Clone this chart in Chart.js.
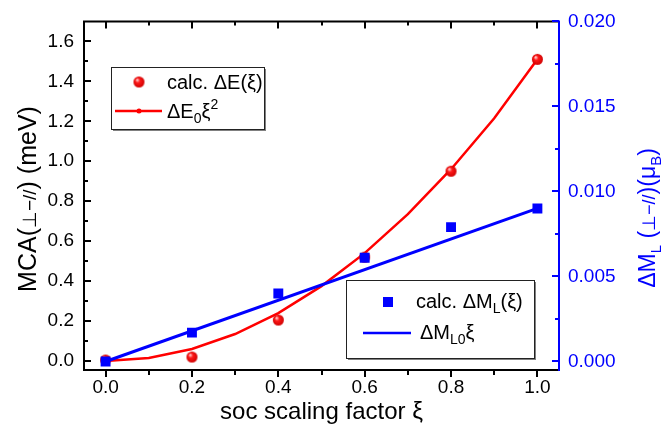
<!DOCTYPE html>
<html>
<head>
<meta charset="utf-8">
<script src="https://cdn.jsdelivr.net/npm/chart.js@4/dist/chart.umd.min.js"></script>
<style>
  body { margin: 0; background: #fff; }
  #mca { display: block; }
</style>
</head>
<body>
<canvas id="mca" width="666" height="431"></canvas>
<script>
// soc scaling factor values of the calculations
const xiCalc = [0.0, 0.2, 0.4, 0.6, 0.8, 1.0];
// calculated MCA energy, meV
const dECalc = [0.005, 0.02, 0.205, 0.52, 0.95, 1.51];
// calculated orbital moment anisotropy, mu_B
const dMCalc = [0.0, 0.0017, 0.0040, 0.0061, 0.0079, 0.0090];

// quadratic model curve
const xiFit = [0.0, 0.1, 0.2, 0.3, 0.4, 0.5, 0.6, 0.7, 0.8, 0.9, 1.0];
const dEFit = [0.0, 0.015, 0.06, 0.135, 0.24, 0.375, 0.54, 0.735, 0.96, 1.215, 1.51];
// linear model line
const xiLin = [0.0, 1.0];
const dMLin = [0.0, 0.0090];

// tick positions
const xMajor = [0.0, 0.2, 0.4, 0.6, 0.8, 1.0];
const xMinor = [0.1, 0.3, 0.5, 0.7, 0.9];
const yMajor = [0.0, 0.2, 0.4, 0.6, 0.8, 1.0, 1.2, 1.4, 1.6];
const yMinor = [0.1, 0.3, 0.5, 0.7, 0.9, 1.1, 1.3, 1.5];
const y2Major = [0.0, 0.005, 0.010, 0.015, 0.020];
const y2Minor = [0.0025, 0.0075, 0.0125, 0.0175];

const FONT = "'Liberation Sans', Arial, sans-serif";
const RED = '#ff0000';
const BLUE = '#0000ff';

const pts = (xs, ys) => xs.map((v, i) => ({ x: v, y: ys[i] }));

// shaded red ball used as point marker
function makeBall(r) {
  const c = document.createElement('canvas');
  const s = Math.ceil(r * 2 + 2);
  c.width = c.height = s;
  const g = c.getContext('2d');
  const cx = s / 2, cy = s / 2;
  const grad = g.createRadialGradient(cx - r * 0.35, cy - r * 0.4, r * 0.1, cx, cy, r);
  grad.addColorStop(0, '#ffc8c8');
  grad.addColorStop(0.35, '#ff1a1a');
  grad.addColorStop(1, '#d00000');
  g.fillStyle = grad;
  g.beginPath();
  g.arc(cx, cy, r, 0, Math.PI * 2);
  g.fill();
  return c;
}
const ball = makeBall(5.5);

// draws a run of text pieces with their own size / vertical shift
function richText(ctx, parts, x, y, color, measureOnly) {
  let w = 0;
  parts.forEach(p => {
    ctx.font = p.size + 'px ' + FONT;
    if (!measureOnly) {
      ctx.fillStyle = color;
      ctx.fillText(p.t, x + w, y + (p.dy || 0));
    }
    w += ctx.measureText(p.t).width;
  });
  return w;
}

function richCentered(ctx, parts, cx, cy, color, rotate) {
  ctx.save();
  ctx.textBaseline = 'alphabetic';
  ctx.textAlign = 'left';
  ctx.translate(cx, cy);
  if (rotate) ctx.rotate(-Math.PI / 2);
  const w = richText(ctx, parts, 0, 0, color, true);
  richText(ctx, parts, -w / 2, 8, color, false);
  ctx.restore();
}

const framePlugin = {
  id: 'frame',
  afterDatasetsDraw(chart) {
    const ctx = chart.ctx;
    const a = chart.chartArea;
    const sx = chart.scales.x, sy = chart.scales.y, sy2 = chart.scales.y2;
    ctx.save();
    ctx.lineCap = 'butt';
    ctx.lineWidth = 2;

    // black frame: left, bottom, top
    ctx.strokeStyle = '#000';
    ctx.beginPath();
    ctx.moveTo(a.right - 1, a.top);
    ctx.lineTo(a.left, a.top);
    ctx.lineTo(a.left, a.bottom);
    ctx.lineTo(a.right, a.bottom);
    ctx.stroke();

    const tick = (x1, y1, x2, y2) => { ctx.moveTo(x1, y1); ctx.lineTo(x2, y2); };
    ctx.beginPath();
    xMajor.forEach(v => {
      const p = Math.round(sx.getPixelForValue(v));
      tick(p, a.bottom, p, a.bottom + 7);
      tick(p, a.top, p, a.top + 7);
    });
    xMinor.forEach(v => {
      const p = Math.round(sx.getPixelForValue(v));
      tick(p, a.bottom, p, a.bottom + 5);
      tick(p, a.top, p, a.top + 4);
    });
    yMajor.forEach(v => {
      const p = Math.round(sy.getPixelForValue(v));
      tick(a.left, p, a.left + 7, p);
    });
    yMinor.forEach(v => {
      const p = Math.round(sy.getPixelForValue(v));
      tick(a.left, p, a.left + 4, p);
    });
    ctx.stroke();

    // blue right axis
    ctx.strokeStyle = BLUE;
    ctx.beginPath();
    tick(a.right, a.top - 1, a.right, a.bottom + 1);
    y2Major.forEach(v => {
      const p = Math.round(sy2.getPixelForValue(v));
      tick(a.right, p, a.right - 7, p);
    });
    y2Minor.forEach(v => {
      const p = Math.round(sy2.getPixelForValue(v));
      tick(a.right, p, a.right - 4, p);
    });
    ctx.stroke();
    ctx.restore();
  },
  afterDraw(chart) {
    const ctx = chart.ctx;
    const a = chart.chartArea;

    // axis titles
    richCentered(ctx, [
      { t: 'MCA(', size: 25 }, { t: '\u22A5\u2212//', size: 19 }, { t: ') (meV)', size: 25 }
    ], 28, 199, '#000', true);
    richCentered(ctx, [
      { t: 'soc scaling factor \u03BE', size: 24 }
    ], (a.left + a.right) / 2, 411, '#000', false);
    richCentered(ctx, [
      { t: '\u0394M', size: 23 }, { t: 'L', size: 15, dy: 6 }, { t: ' (', size: 23 },
      { t: '\u22A5\u2212//', size: 18 }, { t: ')(\u03BC', size: 23 }, { t: 'B', size: 15, dy: 6 },
      { t: ')', size: 23 }
    ], 647, 218, BLUE, true);

    // legend boxes
    const box = (x, y, w, h) => {
      ctx.fillStyle = '#fff';
      ctx.fillRect(x, y, w, h);
      ctx.strokeStyle = '#808080';
      ctx.lineWidth = 2;
      ctx.beginPath();
      ctx.moveTo(x + w + 1, y + 2);
      ctx.lineTo(x + w + 1, y + h + 1);
      ctx.lineTo(x + 2, y + h + 1);
      ctx.stroke();
      ctx.strokeStyle = '#222';
      ctx.lineWidth = 1;
      ctx.strokeRect(x + 0.5, y + 0.5, w, h);
    };
    ctx.save();
    ctx.textBaseline = 'alphabetic';
    ctx.textAlign = 'left';

    box(111, 67, 153, 62);
    ctx.drawImage(ball, 139 - ball.width / 2, 82 - ball.height / 2);
    richText(ctx, [{ t: 'calc. \u0394E(\u03BE)', size: 20 }], 167, 89, '#000');
    ctx.strokeStyle = RED;
    ctx.lineWidth = 2.5;
    ctx.beginPath();
    ctx.moveTo(115, 111);
    ctx.lineTo(162, 111);
    ctx.stroke();
    ctx.fillStyle = RED;
    ctx.beginPath();
    ctx.arc(139, 111, 2.5, 0, Math.PI * 2);
    ctx.fill();
    richText(ctx, [
      { t: '\u0394E', size: 20 }, { t: '0', size: 14, dy: 5 }, { t: '\u03BE', size: 20 },
      { t: '2', size: 14, dy: -9 }
    ], 167, 118, '#000');

    box(346, 280, 188, 78);
    ctx.fillStyle = BLUE;
    ctx.fillRect(383, 297, 10, 10);
    richText(ctx, [
      { t: 'calc. \u0394M', size: 20 }, { t: 'L', size: 14, dy: 5 }, { t: '(\u03BE)', size: 20 }
    ], 416, 308, '#000');
    ctx.strokeStyle = BLUE;
    ctx.lineWidth = 2.5;
    ctx.beginPath();
    ctx.moveTo(363, 333);
    ctx.lineTo(411, 333);
    ctx.stroke();
    richText(ctx, [
      { t: '\u0394M', size: 20 }, { t: 'L0', size: 14, dy: 5 }, { t: '\u03BE', size: 20 }
    ], 420, 339, '#000');
    ctx.restore();
  }
};

const tickFont = { family: FONT, size: 19 };

new Chart(document.getElementById('mca'), {
  type: 'scatter',
  data: {
    datasets: [
      {
        label: 'calc. \u0394M_L(\u03BE)',
        data: pts(xiCalc, dMCalc),
        yAxisID: 'y2',
        pointStyle: 'rect',
        pointRadius: 7,
        backgroundColor: BLUE,
        borderColor: BLUE,
        borderWidth: 0,
        order: 0
      },
      {
        label: '\u0394M_L0 \u03BE',
        data: pts(xiLin, dMLin),
        yAxisID: 'y2',
        showLine: true,
        pointRadius: 0,
        borderColor: BLUE,
        borderWidth: 3,
        order: 1
      },
      {
        label: 'calc. \u0394E(\u03BE)',
        data: pts(xiCalc, dECalc),
        yAxisID: 'y',
        pointStyle: ball,
        pointRadius: 5.5,
        order: 2
      },
      {
        label: '\u0394E0 \u03BE^2',
        data: pts(xiFit, dEFit),
        yAxisID: 'y',
        showLine: true,
        pointRadius: 0,
        borderColor: RED,
        borderWidth: 2.5,
        order: 3
      }
    ]
  },
  options: {
    responsive: false,
    animation: false,
    devicePixelRatio: 1,
    layout: { padding: { top: 21, left: 0, right: 0, bottom: 0 } },
    plugins: {
      legend: { display: false },
      tooltip: { enabled: false }
    },
    scales: {
      x: {
        type: 'linear',
        min: -0.05,
        max: 1.05,
        grid: { display: false, drawTicks: false },
        border: { display: false },
        afterBuildTicks: s => { s.ticks = xMajor.map(v => ({ value: v })); },
        afterFit: s => { s.height = 61; },
        ticks: {
          color: '#000',
          font: tickFont,
          padding: 6,
          maxRotation: 0,
          autoSkip: false,
          callback: v => v.toFixed(1)
        }
      },
      y: {
        type: 'linear',
        position: 'left',
        min: -0.045,
        max: 1.7,
        grid: { display: false, drawTicks: false },
        border: { display: false },
        afterBuildTicks: s => { s.ticks = yMajor.map(v => ({ value: v })); },
        afterFit: s => { s.width = 84; },
        ticks: {
          color: '#000',
          font: tickFont,
          padding: 10,
          autoSkip: false,
          callback: v => v.toFixed(1)
        }
      },
      y2: {
        type: 'linear',
        position: 'right',
        min: -0.0005,
        max: 0.020,
        grid: { display: false, drawTicks: false },
        border: { display: false },
        afterBuildTicks: s => { s.ticks = y2Major.map(v => ({ value: v })); },
        afterFit: s => { s.width = 107; },
        ticks: {
          color: BLUE,
          font: tickFont,
          padding: 9,
          autoSkip: false,
          callback: v => v.toFixed(3)
        }
      }
    }
  },
  plugins: [framePlugin]
});
</script>
</body>
</html>
